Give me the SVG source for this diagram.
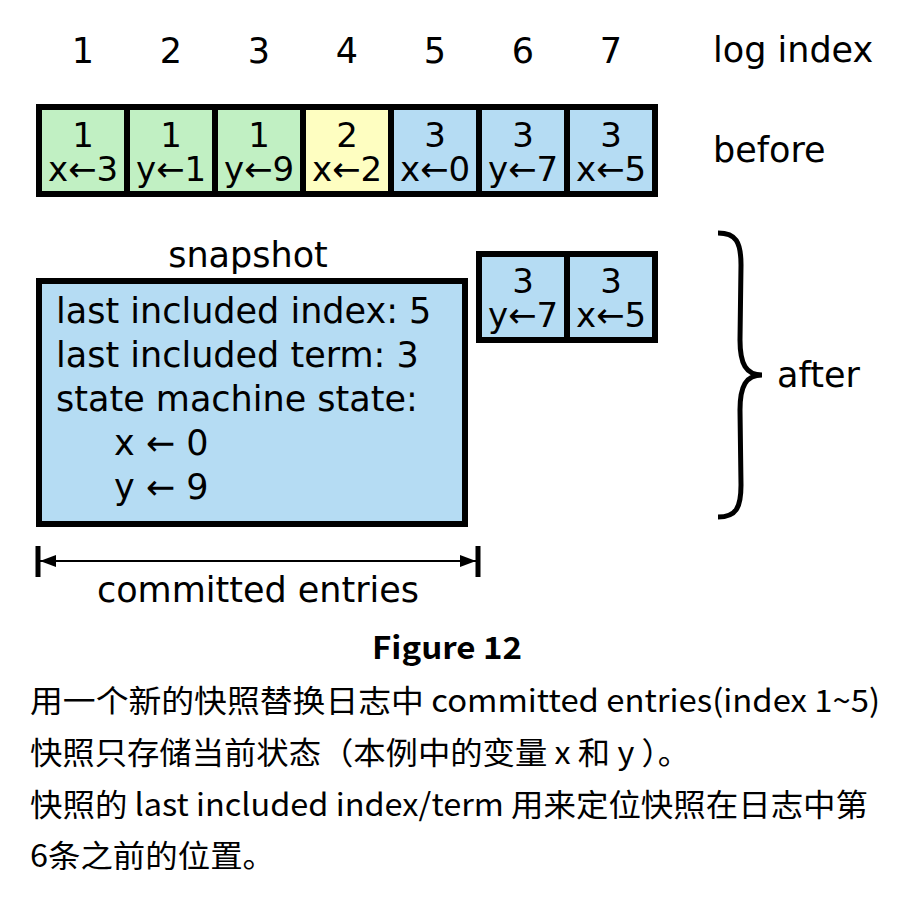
<svg xmlns="http://www.w3.org/2000/svg" width="920" height="911" viewBox="0 0 920 911">
<defs>
<style>
.t{font-family:"DejaVu Sans",sans-serif;font-size:34px;fill:#000}
.l{font-size:35px}
.c{text-anchor:middle}
.cell{stroke:#000;stroke-width:6}
.g{fill:#c1f0c3}
.y{fill:#fefec1}
.b{fill:#b5dcf3}
.zh{font-family:"Noto Sans CJK SC",sans-serif;font-size:31px;fill:#000}
</style>
<marker id="ah" viewBox="0 0 16 12" refX="16" refY="6" markerWidth="16" markerHeight="12" markerUnits="userSpaceOnUse" orient="auto-start-reverse">
<path d="M0,0 L16,6 L0,12 Z" fill="#000"/>
</marker>
</defs>
<rect width="920" height="911" fill="#fff"/>
<g id="index-labels" class="t l c">
<text x="83" y="63">1</text><text x="171" y="63">2</text><text x="259" y="63">3</text><text x="347" y="63">4</text><text x="435" y="63">5</text><text x="523" y="63">6</text><text x="611" y="63">7</text>
</g>
<text class="t l" x="713" y="62">log index</text>
<text class="t l" x="713" y="162">before</text>
<g id="before-1"><rect class="cell g" x="39" y="107" width="88" height="87"/><text class="t c" x="83" y="147">1</text><text class="t c" x="83" y="181">x←3</text></g>
<g id="before-2"><rect class="cell g" x="127" y="107" width="88" height="87"/><text class="t c" x="171" y="147">1</text><text class="t c" x="171" y="181">y←1</text></g>
<g id="before-3"><rect class="cell g" x="215" y="107" width="88" height="87"/><text class="t c" x="259" y="147">1</text><text class="t c" x="259" y="181">y←9</text></g>
<g id="before-4"><rect class="cell y" x="303" y="107" width="88" height="87"/><text class="t c" x="347" y="147">2</text><text class="t c" x="347" y="181">x←2</text></g>
<g id="before-5"><rect class="cell b" x="391" y="107" width="88" height="87"/><text class="t c" x="435" y="147">3</text><text class="t c" x="435" y="181">x←0</text></g>
<g id="before-6"><rect class="cell b" x="479" y="107" width="88" height="87"/><text class="t c" x="523" y="147">3</text><text class="t c" x="523" y="181">y←7</text></g>
<g id="before-7"><rect class="cell b" x="567" y="107" width="88" height="87"/><text class="t c" x="611" y="147">3</text><text class="t c" x="611" y="181">x←5</text></g>
<g id="snapshot">
<text class="t l c" x="248" y="267">snapshot</text>
<rect class="cell b" x="39" y="281" width="426" height="243"/>
<text class="t l" x="56" y="323">last included index: 5</text>
<text class="t l" x="56" y="367">last included term: 3</text>
<text class="t l" x="56" y="411">state machine state:</text>
<text class="t l" x="114" y="455">x ← 0</text>
<text class="t l" x="114" y="499">y ← 9</text>
</g>
<g id="after-6"><rect class="cell b" x="479" y="254" width="88" height="86"/><text class="t c" x="523" y="293">3</text><text class="t c" x="523" y="327">y←7</text></g>
<g id="after-7"><rect class="cell b" x="567" y="254" width="88" height="86"/><text class="t c" x="611" y="293">3</text><text class="t c" x="611" y="327">x←5</text></g>
<g id="after-brace">
<path d="M718,233 C736,233 741,242 741,265 L740,340 C740,364 746,375 762,375 C746,375 740,386 740,410 L741,485 C741,508 736,517 718,517" fill="none" stroke="#000" stroke-width="5"/>
<text class="t l" x="777" y="387">after</text>
</g>
<g id="connectors">
<line x1="38" y1="546" x2="38" y2="577" stroke="#000" stroke-width="5"/>
<line x1="478" y1="546" x2="478" y2="577" stroke="#000" stroke-width="5"/>
<line x1="40" y1="561" x2="476" y2="561" stroke="#000" stroke-width="2" marker-start="url(#ah)" marker-end="url(#ah)"/>
</g>
<text class="t l c" x="258" y="602">committed entries</text>
<text x="372" y="659" textLength="150" lengthAdjust="spacingAndGlyphs" style="font-family:'Noto Sans CJK SC',sans-serif;font-size:31px;font-weight:bold">Figure 12</text>
<g id="caption" class="zh">
<text x="30" y="712" textLength="850" lengthAdjust="spacingAndGlyphs">用一个新的快照替换日志中 committed entries(index 1~5)</text>
<text x="30" y="764" textLength="660" lengthAdjust="spacingAndGlyphs">快照只存储当前状态（本例中的变量 x 和 y ）。</text>
<text x="30" y="816" textLength="838" lengthAdjust="spacingAndGlyphs">快照的 last included index/term 用来定位快照在日志中第</text>
<text x="30" y="867" textLength="245" lengthAdjust="spacingAndGlyphs">6条之前的位置。</text>
</g>
</svg>
